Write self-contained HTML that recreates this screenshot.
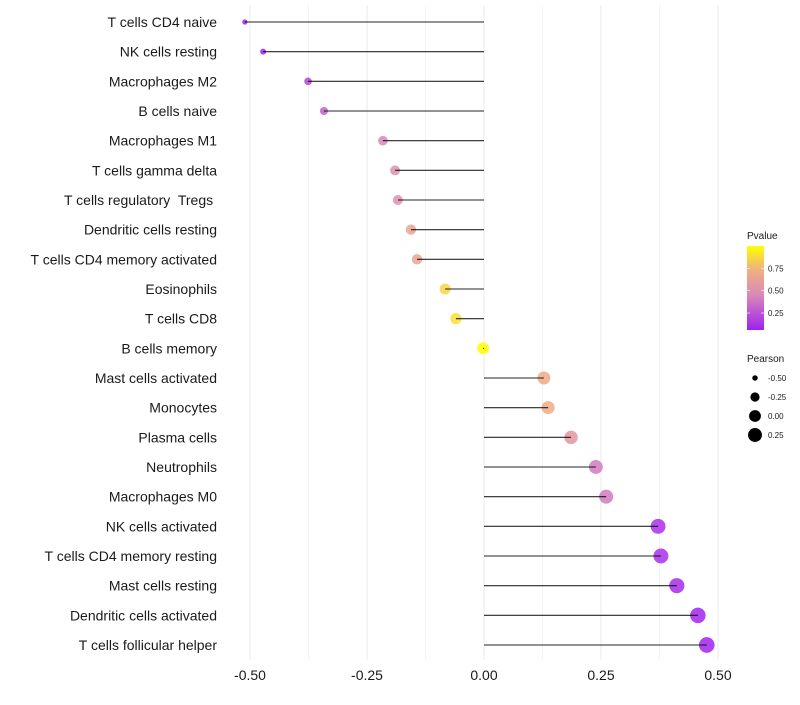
<!DOCTYPE html>
<html><head><meta charset="utf-8"><style>
body{margin:0;background:#fff;font-family:"Liberation Sans",sans-serif}
svg text{font-family:"Liberation Sans",sans-serif;white-space:pre}
</style></head><body>
<svg id="c" width="800" height="700" xmlns="http://www.w3.org/2000/svg">
<defs><linearGradient id="pg" x1="0" y1="1" x2="0" y2="0">
<stop offset="0" stop-color="#a020f0"/><stop offset="0.42" stop-color="#d88ab8"/><stop offset="0.72" stop-color="#f0b080"/><stop offset="1" stop-color="#ffff00"/></linearGradient></defs>
<g id="grid"></g>
<g id="dots"></g>
<g id="marks"></g>
<g id="ylab"></g>
<g id="xlab"></g>
<g>
<text x="747" y="239" font-size="10" fill="#1a1a1a">Pvalue</text>
<rect x="747" y="246" width="17" height="84" fill="url(#pg)"/>
<g id="cbticks"></g>
</g>
<g id="sizeleg">
<text x="747" y="362" font-size="10" fill="#1a1a1a">Pearson</text>
</g>
</svg>
<script>
const categories=["T cells CD4 naive","NK cells resting","Macrophages M2","B cells naive","Macrophages M1","T cells gamma delta","T cells regulatory  Tregs ","Dendritic cells resting","T cells CD4 memory activated","Eosinophils","T cells CD8","B cells memory","Mast cells activated","Monocytes","Plasma cells","Neutrophils","Macrophages M0","NK cells activated","T cells CD4 memory resting","Mast cells resting","Dendritic cells activated","T cells follicular helper"];
const pearson=[-0.511,-0.472,-0.376,-0.342,-0.216,-0.19,-0.184,-0.156,-0.143,-0.083,-0.06,-0.002,0.128,0.137,0.186,0.239,0.261,0.372,0.378,0.412,0.457,0.476];
const pvalue=[0.06,0.08,0.2,0.3,0.45,0.5,0.5,0.64,0.64,0.86,0.9,1.0,0.7,0.7,0.55,0.4,0.4,0.12,0.12,0.1,0.08,0.07];
const xTicks=[-0.5,-0.25,0,0.25,0.5];
const xTickLabels=["-0.50","-0.25","0.00","0.25","0.50"];
const cbTicks=[0.25,0.5,0.75];
const cbTickLabels=["0.25","0.50","0.75"];
const sizeLegend=[-0.5,-0.25,0,0.25];
const sizeLegendLabels=["-0.50","-0.25","0.00","0.25"];
const NS="http://www.w3.org/2000/svg";
const pMin=0.06,pMax=1.0;
function X(v){return 484+v*468;}
function Y(i){return 22+i*(623/21);}
function R(v){return Math.sqrt(Math.max(1,35+55*v));}
function CB(p){return 330-(p-pMin)/(pMax-pMin)*84;}
function mix(a,b,t){return a.map((x,k)=>Math.round(x+(b[k]-x)*t));}
const stops=[[0,[160,32,240]],[0.42,[216,138,184]],[0.72,[240,176,128]],[1,[255,255,0]]];
function col(p){let t=(p-pMin)/(pMax-pMin);t=Math.max(0,Math.min(1,t));
for(let k=1;k<stops.length;k++){if(t<=stops[k][0]){const a=stops[k-1],b=stops[k];return `rgb(${mix(a[1],b[1],(t-a[0])/(b[0]-a[0]))})`;}}
return 'rgb(255,255,0)';}
function mk(tag,attrs,parent){const e=document.createElementNS(NS,tag);for(const k in attrs)e.setAttribute(k,attrs[k]);document.getElementById(parent).appendChild(e);return e;}
for(let k=0;k<=8;k++){const v=-0.5+k*0.125;
const g=mk('line',{x1:X(v),x2:X(v),y1:5,y2:660,stroke:k%2?'#f2f2f2':'#ebebeb','stroke-width':1},'grid');

}
xTicks.forEach((v,i)=>{const t=mk('text',{x:X(v),y:680,'font-size':14,'text-anchor':'middle',fill:'#1a1a1a'},'xlab');t.textContent=xTickLabels[i];

});
categories.forEach((c,i)=>{
const t=mk('text',{x:217,y:Y(i)+5,'font-size':14,'text-anchor':'end',fill:'#1a1a1a'},'ylab');t.textContent=c;


const d=mk('circle',{cx:X(pearson[i]),cy:Y(i),r:R(pearson[i]),fill:col(pvalue[i]),'fill-opacity':0.85},'dots');


const l=mk('line',{x1:X(0),x2:X(pearson[i]),y1:Y(i),y2:Y(i),stroke:'#000','stroke-width':1.1,'stroke-opacity':0.85},'marks');

});
cbTicks.forEach((p,i)=>{
mk('line',{x1:747,x2:750,y1:CB(p),y2:CB(p),stroke:'#fff','stroke-width':0.6},'cbticks');
mk('line',{x1:761,x2:764,y1:CB(p),y2:CB(p),stroke:'#fff','stroke-width':0.6},'cbticks');
const t=mk('text',{x:768,y:CB(p)+3,'font-size':8,fill:'#1a1a1a'},'cbticks');t.textContent=cbTickLabels[i];

});
sizeLegend.forEach((v,i)=>{const y=378+i*19;
const c=mk('circle',{cx:755,cy:y,r:R(v),fill:'#000'},'sizeleg');


const t=mk('text',{x:768,y:y+3,'font-size':8,fill:'#1a1a1a'},'sizeleg');t.textContent=sizeLegendLabels[i];

});
</script>
</body></html>
